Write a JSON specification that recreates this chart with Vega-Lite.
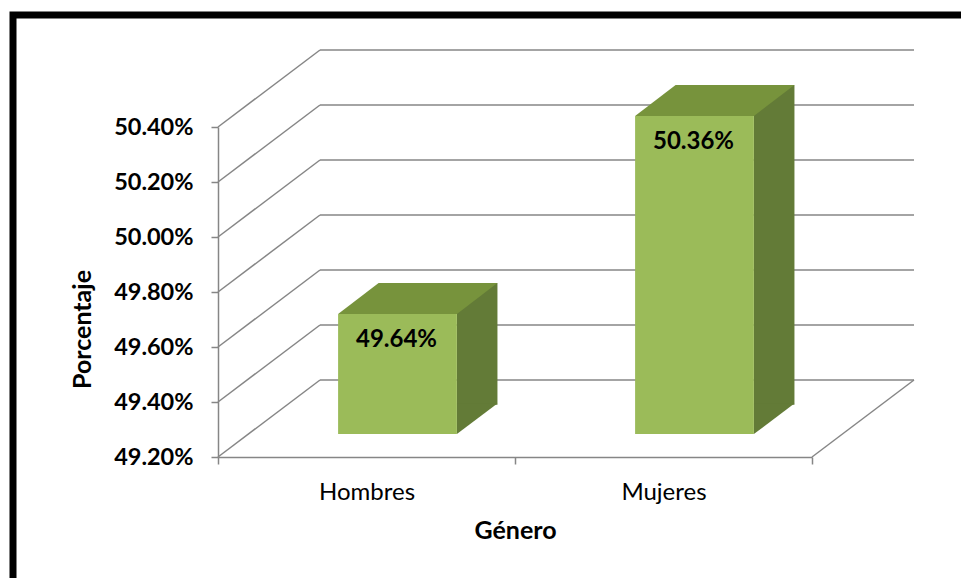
{
  "$schema": "https://vega.github.io/schema/vega-lite/v6.json",
  "width": 968,
  "height": 583,
  "autosize": {"type": "none"},
  "padding": {"left": 13, "top": 15, "right": -20, "bottom": -20},
  "background": "#ffffff",
  "config": {
    "font": "Lato",
    "view": {"stroke": "#000000", "strokeWidth": 7},
    "axis": {
      "domainColor": "#868686", "domainWidth": 1.5,
      "tickColor": "#868686", "tickWidth": 1.5, "tickSize": 7,
      "labelColor": "#000000", "labelFont": "Lato", "labelFontSize": 23.5,
      "titleFont": "Lato", "titleFontSize": 25, "titleFontWeight": "bold", "titleColor": "#000000",
      "grid": false
    }
  },
  "datasets": {
    "genero": [
      {"genero": "Hombres", "pct": 0.4964},
      {"genero": "Mujeres", "pct": 0.5036}
    ],
    "marcas": [
      {"v": 0.492}, {"v": 0.494}, {"v": 0.496}, {"v": 0.498},
      {"v": 0.5}, {"v": 0.502}, {"v": 0.504}
    ],
    "esquina": [{"v": 0.492}]
  },
  "layer": [
    {
      "layer": [
        {
          "data": {"name": "marcas"},
          "mark": {"type": "rule", "color": "#868686", "strokeWidth": 1.5, "xOffset": 102, "x2Offset": 102, "yOffset": -77},
          "encoding": {
            "x": {"datum": 0, "type": "quantitative", "scale": {"domain": [0, 1], "range": [205, 799], "nice": false, "zero": false}, "axis": null},
            "x2": {"datum": 1},
            "y": {"field": "v", "type": "quantitative",
              "scale": {"domain": [0.492, 0.504], "range": [442, 112], "nice": false, "zero": false},
              "axis": {"title": "Porcentaje", "values": [0.492, 0.494, 0.496, 0.498, 0.5, 0.502, 0.504], "format": ".2%", "offset": -205, "labelPadding": 18, "labelFontWeight": "bold", "titlePadding": 18, "titleY": 314}}
          }
        },
        {
          "data": {"name": "marcas"},
          "mark": {"type": "rule", "color": "#868686", "strokeWidth": 1.5, "x2Offset": 102, "y2Offset": -77},
          "encoding": {
            "x": {"datum": 0, "type": "quantitative", "scale": {"domain": [0, 1], "range": [205, 799], "nice": false, "zero": false}, "axis": null},
            "x2": {"datum": 0},
            "y": {"field": "v", "type": "quantitative",
              "scale": {"domain": [0.492, 0.504], "range": [442, 112], "nice": false, "zero": false},
              "axis": {"title": "Porcentaje", "values": [0.492, 0.494, 0.496, 0.498, 0.5, 0.502, 0.504], "format": ".2%", "offset": -205, "labelPadding": 18, "labelFontWeight": "bold", "titlePadding": 18, "titleY": 314}},
            "y2": {"field": "v"}
          }
        },
        {
          "data": {"name": "esquina"},
          "mark": {"type": "rule", "color": "#868686", "strokeWidth": 1.5, "x2Offset": 102, "y2Offset": -77},
          "encoding": {
            "x": {"datum": 1, "type": "quantitative", "scale": {"domain": [0, 1], "range": [205, 799], "nice": false, "zero": false}, "axis": null},
            "x2": {"datum": 1},
            "y": {"field": "v", "type": "quantitative",
              "scale": {"domain": [0.492, 0.504], "range": [442, 112], "nice": false, "zero": false},
              "axis": {"title": "Porcentaje", "values": [0.492, 0.494, 0.496, 0.498, 0.5, 0.502, 0.504], "format": ".2%", "offset": -205, "labelPadding": 18, "labelFontWeight": "bold", "titlePadding": 18, "titleY": 314}},
            "y2": {"field": "v"}
          }
        }
      ]
    },
    {
      "data": {"name": "genero"},
      "encoding": {
        "x": {"field": "genero", "type": "nominal", "sort": null,
          "scale": {"range": [205, 799], "paddingInner": 0, "paddingOuter": 0},
          "axis": {"title": "Género", "labelAngle": 0, "labelFontWeight": "normal", "labelFontSize": 24, "labelPadding": 16, "tickBand": "extent", "offset": -141, "titlePadding": 14}},
        "y": {"field": "pct", "type": "quantitative",
          "scale": {"domain": [0.492, 0.504], "range": [442, 112], "nice": false, "zero": false},
          "axis": {"title": "Porcentaje", "values": [0.492, 0.494, 0.496, 0.498, 0.5, 0.502, 0.504], "format": ".2%", "offset": -205, "labelPadding": 18, "labelFontWeight": "bold", "titlePadding": 18, "titleY": 314}}
      },
      "layer": [
        {
          "mark": {"type": "bar", "width": 40.5, "xOffset": 110.7, "yOffset": -53, "y2Offset": -52.3, "color": "#637B37"},
          "encoding": {"y2": {"datum": 0.492}}
        },
        {
          "mark": {"type": "point", "shape": "M59.4,0L99.9,-30.5L59.4,-30.5Z", "size": 4, "filled": true, "opacity": 1, "strokeWidth": 0, "color": "#637B37", "xOffset": 31, "yOffset": -23},
          "encoding": {"y": {"datum": 0.492, "type": "quantitative",
            "scale": {"domain": [0.492, 0.504], "range": [442, 112], "nice": false, "zero": false},
            "axis": {"title": "Porcentaje", "values": [0.492, 0.494, 0.496, 0.498, 0.5, 0.502, 0.504], "format": ".2%", "offset": -205, "labelPadding": 18, "labelFontWeight": "bold", "titlePadding": 18, "titleY": 314}}}
        },
        {
          "mark": {"type": "bar", "width": {"band": 0.4}, "xOffset": 31, "yOffset": -22, "y2Offset": -23, "color": "#9BBB59"},
          "encoding": {"y2": {"datum": 0.492}}
        },
        {
          "mark": {"type": "point", "shape": "M-59.4,0L-18.9,-31L99.9,-31L59.4,0Z", "size": 4, "filled": true, "opacity": 1, "strokeWidth": 0, "color": "#77933C", "xOffset": 31, "yOffset": -22}
        },
        {
          "mark": {"type": "text", "fontSize": 24, "fontWeight": "bold", "color": "#000000", "baseline": "middle", "align": "center", "xOffset": 30, "yOffset": 4},
          "encoding": {"text": {"field": "pct", "type": "quantitative", "format": ".2%"}}
        }
      ]
    }
  ],
  "resolve": {"scale": {"x": "independent"}}
}
